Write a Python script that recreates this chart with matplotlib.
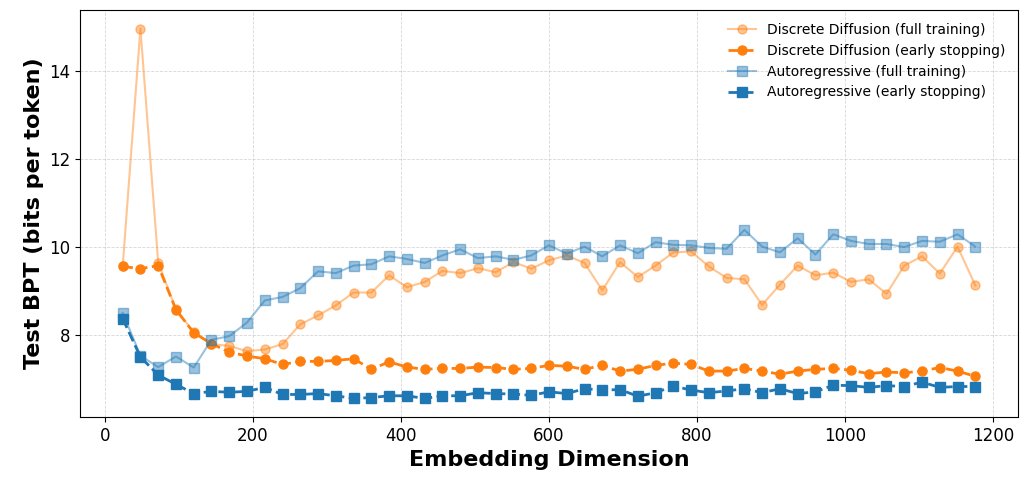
import numpy as np
import matplotlib.pyplot as plt

# embedding dims: 24, 48, ..., 1176
dims = [24 * i for i in range(1, 50)]

dd_full = [9.56, 14.95, 9.65, 8.59, 8.07, 7.80, 7.76, 7.64, 7.68, 7.80,
           8.25, 8.45, 8.68, 8.97, 8.97, 9.36, 9.09, 9.21, 9.46, 9.41,
           9.52, 9.43, 9.66, 9.51, 9.70, 9.81, 9.64, 9.02, 9.66, 9.32,
           9.58, 9.88, 9.90, 9.56, 9.30, 9.27, 8.69, 9.15, 9.58, 9.36,
           9.42, 9.21, 9.27, 8.94, 9.58, 9.79, 9.40, 10.01, 9.13]
dd_early = [9.56, 9.51, 9.58, 8.58, 8.06, 7.81, 7.62, 7.53, 7.47, 7.34,
            7.41, 7.41, 7.43, 7.47, 7.23, 7.40, 7.28, 7.23, 7.25, 7.25,
            7.28, 7.27, 7.23, 7.25, 7.32, 7.30, 7.23, 7.32, 7.19, 7.23,
            7.32, 7.37, 7.34, 7.19, 7.19, 7.25, 7.19, 7.12, 7.19, 7.23,
            7.25, 7.21, 7.13, 7.17, 7.15, 7.19, 7.27, 7.19, 7.07]
ar_full = [8.51, 7.54, 7.28, 7.52, 7.27, 7.90, 7.98, 8.29, 8.79, 8.87,
           9.07, 9.45, 9.41, 9.58, 9.61, 9.79, 9.73, 9.64, 9.81, 9.95,
           9.75, 9.79, 9.71, 9.81, 10.04, 9.85, 10.01, 9.79, 10.04, 9.86,
           10.11, 10.05, 10.04, 9.98, 9.96, 10.39, 10.01, 9.88, 10.20, 9.83,
           10.29, 10.14, 10.07, 10.07, 10.00, 10.14, 10.12, 10.29, 10.01]
ar_early = [8.38, 7.51, 7.10, 6.89, 6.68, 6.73, 6.71, 6.73, 6.82, 6.66,
            6.66, 6.68, 6.63, 6.57, 6.59, 6.63, 6.63, 6.57, 6.63, 6.63,
            6.70, 6.68, 6.67, 6.64, 6.72, 6.68, 6.79, 6.76, 6.77, 6.62,
            6.70, 6.85, 6.76, 6.70, 6.74, 6.79, 6.70, 6.79, 6.68, 6.72,
            6.87, 6.86, 6.82, 6.86, 6.84, 6.94, 6.82, 6.84, 6.84]

orange = '#ff7f0e'
blue = '#1f77b4'

fig, ax = plt.subplots(figsize=(10.3, 4.82), dpi=100)

ax.plot(dims, dd_full, '-o', color=orange, alpha=0.45, lw=1.5, ms=6.5,
        label='Discrete Diffusion (full training)')
ax.plot(dims, dd_early, '--o', color=orange, lw=2, ms=6.5,
        label='Discrete Diffusion (early stopping)')
ax.plot(dims, ar_full, '-s', color=blue, alpha=0.45, lw=1.5, ms=6.5,
        label='Autoregressive (full training)')
ax.plot(dims, ar_early, '--s', color=blue, lw=2, ms=6.5,
        label='Autoregressive (early stopping)')

ax.set_xlabel('Embedding Dimension', fontsize=16, fontweight='bold')
ax.set_ylabel('Test BPT (bits per token)', fontsize=16, fontweight='bold')
ax.tick_params(labelsize=12)
ax.grid(True, linestyle='--', alpha=0.5, lw=0.6)
ax.legend(fontsize=10, frameon=False)

fig.subplots_adjust(left=0.0777, right=0.9883, top=0.979, bottom=0.135)
plt.savefig('out.png')
